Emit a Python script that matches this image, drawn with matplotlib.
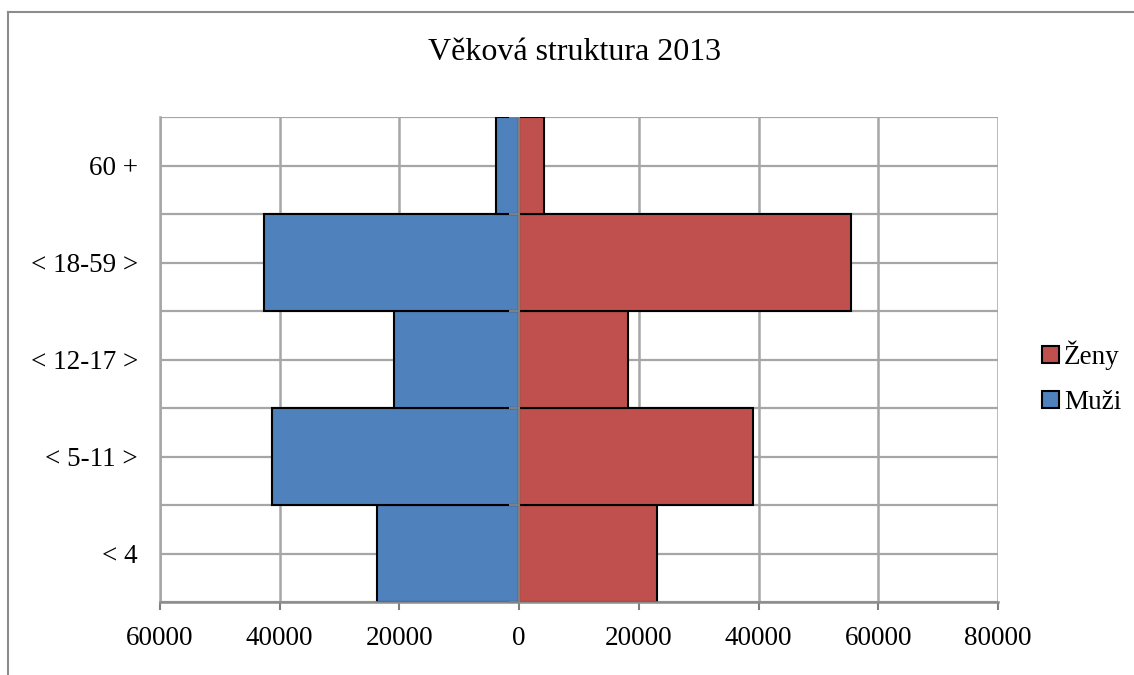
import numpy as np
import matplotlib
matplotlib.use("Agg")
import matplotlib.pyplot as plt
from matplotlib.lines import Line2D
from matplotlib.ticker import FuncFormatter

# ------------------------------------------------------------
# Data
# ------------------------------------------------------------

categories = ["< 4", "< 5-11 >", "< 12-17 >", "< 18-59 >", "60 +"]

muzi = [23700, 41300, 20900, 42600, 3900]

zeny = [23100, 39100, 18200, 55400, 4200]

x_ticks = [-60000, -40000, -20000, 0, 20000, 40000, 60000, 80000]

BLUE = "#4F81BD"
RED = "#C0504D"
GRID = "#A6A6A6"

plt.rcParams["font.family"] = ["Liberation Serif", "DejaVu Serif"]

fig = plt.figure(figsize=(11.34, 6.75), dpi=100)

ax = fig.add_axes([160 / 1134, 1 - 602 / 675, 838 / 1134, 485 / 675])

y = np.arange(len(categories))

# ------------------------------------------------------------
# Grid
# ------------------------------------------------------------

for gy in np.arange(-0.5, len(categories), 0.5):
    ax.axhline(gy, color=GRID, linewidth=1.6, zorder=1)

for gx in x_ticks:
    ax.axvline(gx, color=GRID, linewidth=1.8, zorder=1)

# ------------------------------------------------------------
# Bars
# ------------------------------------------------------------

ax.barh(y, [-v for v in muzi], height=1.0, color=BLUE,
        edgecolor="black", linewidth=1.5, label="Muži", zorder=2)

ax.barh(y, zeny, height=1.0, color=RED,
        edgecolor="black", linewidth=1.5, label="Ženy", zorder=2)

ax.axvline(0, color="#7F7F7F", linewidth=1.6, zorder=3)

bounds = np.arange(-0.5, len(categories), 1.0)
ax.plot([0] * len(bounds), bounds, linestyle="none", marker=0,
        markersize=7, markeredgewidth=1.5, color="#7F7F7F", zorder=3)

# ------------------------------------------------------------
# Axes
# ------------------------------------------------------------

ax.set_xlim(-60000, 80000)
ax.set_ylim(-0.5, len(categories) - 0.5)

ax.set_xticks(x_ticks)
ax.xaxis.set_major_formatter(FuncFormatter(lambda v, p: f"{abs(int(v))}"))
ax.tick_params(axis="x", direction="out", length=6, width=1.5,
               color="#7F7F7F", labelsize=19.5, pad=11)

ax.set_yticks(y)
ax.set_yticklabels(categories)
ax.tick_params(axis="y", length=0, labelsize=19.5, pad=16)

for side in ["top", "right"]:
    ax.spines[side].set_visible(False)

ax.spines["left"].set_color(GRID)
ax.spines["left"].set_linewidth(1.8)
ax.spines["bottom"].set_color("#8C8C8C")
ax.spines["bottom"].set_linewidth(1.8)

# ------------------------------------------------------------
# Title, legend, frame
# ------------------------------------------------------------

fig.text(575 / 1134, 1 - 52 / 675, "Věková struktura 2013",
         ha="center", va="center", fontsize=23)

handles, labels = ax.get_legend_handles_labels()
fig.legend(handles[::-1], labels[::-1], loc="center left",
           bbox_to_anchor=(1018 / 1134, 1 - 378 / 675),
           frameon=False, fontsize=19.5, handlelength=0.6,
           handleheight=0.6, handletextpad=0.2, labelspacing=0.75)

fig.add_artist(Line2D([8 / 1134, 8 / 1134], [0, 1 - 12 / 675],
                      transform=fig.transFigure, color="#8C8C8C", linewidth=1.5))
fig.add_artist(Line2D([8 / 1134, 1], [1 - 12 / 675, 1 - 12 / 675],
                      transform=fig.transFigure, color="#8C8C8C", linewidth=1.5))

fig.savefig("out.png", dpi=100)
